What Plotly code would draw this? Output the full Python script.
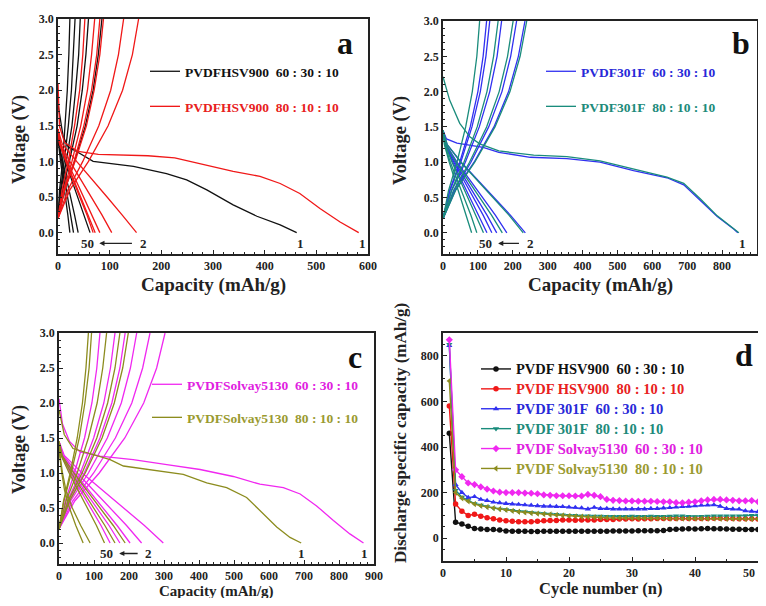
import plotly.graph_objects as go

SERIF = "Liberation Serif, Times New Roman, serif"
# the page body has an 8px margin: the figure sits at (8, 8) and must fit inside the 766x606 window
OFF = 8
W, H = 766 - 2 * OFF, 606 - 2 * OFF

# ---------------- shared voltage grids (V) ----------------
DIS_V = [1.45, 1.25, 1.0, 0.75, 0.5, 0.25, 0.0]
CHG_V = [0.2, 0.6, 1.0, 1.5, 2.0, 2.5, 3.0]

# ---------------- panel a : PVDF HSV900 ----------------
A1_FIRST_CAP = [0, 10, 20, 36, 68, 146, 210, 249, 288, 339, 385, 430, 462]
A1_FIRST_V = [1.8, 1.35, 1.2, 1.14, 1.0, 0.93, 0.83, 0.74, 0.6, 0.39, 0.23, 0.11, 0.0]
A2_FIRST_CAP = [0, 3, 13, 39, 78, 174, 226, 288, 339, 391, 430, 468, 507, 546, 582]
A2_FIRST_V = [2.1, 1.49, 1.26, 1.14, 1.1, 1.08, 1.05, 0.95, 0.86, 0.79, 0.69, 0.55, 0.34, 0.15, 0.0]
A1_DIS = [[0, 4, 14, 26, 38, 51, 62],
          [0, 2, 9, 17, 24, 32, 39],
          [0, 2, 7, 13, 19, 25, 30],
          [0, 1, 5, 10, 14, 19, 23]]
A2_DIS = [[0, 8, 36, 66, 95, 124, 152],
          [0, 5, 23, 44, 65, 85, 104],
          [0, 4, 18, 34, 50, 66, 81],
          [0, 3, 16, 30, 45, 59, 72],
          [0, 3, 15, 28, 42, 56, 68]]
A1_CHG = [[0, 13, 32, 53, 68, 78, 85],
          [0, 9, 22, 37, 47, 54, 59],
          [0, 6, 16, 27, 34, 40, 43],
          [0, 5, 12, 20, 26, 30, 33],
          [0, 3, 9, 14, 18, 21, 23]]
A2_CHG = [[0, 23, 59, 97, 125, 144, 156],
          [0, 19, 48, 79, 102, 117, 127],
          [0, 13, 33, 55, 70, 81, 88],
          [0, 12, 31, 50, 65, 75, 81],
          [0, 11, 27, 44, 57, 65, 71],
          [0, 8, 20, 32, 42, 48, 52]]

# ---------------- panel b : PVDF 301F ----------------
B1_FIRST_CAP = [0, 10, 40, 80, 115, 160, 250, 355, 450, 546, 642, 690, 738, 786, 834, 845]
B1_FIRST_V = [1.45, 1.33, 1.27, 1.24, 1.21, 1.14, 1.07, 1.05, 1.0, 0.88, 0.78, 0.68, 0.46, 0.23, 0.05, 0.0]
B2_FIRST_CAP = [0, 19, 48, 77, 105, 160, 260, 355, 450, 546, 642, 690, 738, 786, 834, 848]
B2_FIRST_V = [2.21, 1.88, 1.55, 1.36, 1.26, 1.16, 1.1, 1.08, 1.02, 0.9, 0.79, 0.7, 0.48, 0.24, 0.06, 0.0]
B1_DIS = [[0, 12, 52, 99, 146, 193, 236],
          [0, 9, 40, 77, 113, 150, 183],
          [0, 8, 34, 65, 95, 126, 154],
          [0, 7, 31, 59, 87, 115, 140],
          [0, 6, 28, 53, 78, 103, 126]]
B2_DIS = [[0, 12, 51, 97, 143, 189, 230],
          [0, 9, 37, 71, 105, 139, 170],
          [0, 6, 26, 49, 72, 95, 116],
          [0, 5, 21, 41, 60, 80, 97],
          [0, 4, 18, 34, 51, 67, 82]]
B1_CHG = [[0, 35, 89, 146, 188, 216, 235],
          [0, 32, 80, 131, 169, 194, 211],
          [0, 25, 64, 104, 134, 155, 168],
          [0, 20, 51, 83, 107, 123, 134],
          [0, 19, 48, 78, 100, 115, 125]]
B2_CHG = [[0, 36, 91, 149, 192, 221, 240],
          [0, 30, 76, 125, 161, 185, 201],
          [0, 24, 60, 98, 126, 145, 158],
          [0, 16, 40, 65, 84, 97, 105]]

# ---------------- panel c : PVDF Solvay5130 ----------------
C1_FIRST_CAP = [0, 10, 30, 60, 117, 212, 308, 403, 498, 574, 641, 689, 736, 784, 831, 870]
C1_FIRST_V = [2.06, 1.7, 1.45, 1.3, 1.24, 1.19, 1.12, 1.05, 0.95, 0.84, 0.79, 0.7, 0.53, 0.32, 0.13, 0.0]
C2_FIRST_CAP = [0, 15, 40, 98, 146, 184, 260, 355, 422, 479, 536, 574, 622, 660, 692]
C2_FIRST_V = [1.9, 1.55, 1.35, 1.26, 1.19, 1.1, 1.05, 0.98, 0.86, 0.79, 0.65, 0.46, 0.23, 0.08, 0.0]
C1_DIS = [[0, 15, 66, 125, 185, 244, 298],
          [0, 12, 52, 99, 146, 193, 236],
          [0, 10, 45, 85, 126, 166, 203],
          [0, 9, 38, 73, 108, 143, 174],
          [0, 7, 32, 61, 91, 120, 146]]
C2_DIS = [[0, 9, 42, 79, 117, 155, 189],
          [0, 8, 35, 67, 99, 131, 160],
          [0, 6, 29, 55, 81, 107, 130],
          [0, 3, 10, 20, 38, 62, 89],
          [0, 2, 8, 16, 30, 48, 69]]
C1_CHG = [[0, 45, 115, 188, 242, 279, 303],
          [0, 39, 99, 161, 208, 239, 260],
          [0, 33, 84, 138, 178, 204, 222],
          [0, 28, 72, 117, 151, 174, 189],
          [0, 24, 61, 99, 128, 147, 160],
          [0, 18, 44, 73, 94, 108, 117]]
C2_CHG = [[0, 30, 75, 123, 158, 182, 198],
          [0, 26, 66, 108, 139, 160, 174],
          [0, 20, 52, 84, 109, 125, 136],
          [0, 14, 35, 58, 74, 86, 93],
          [0, 13, 32, 52, 67, 77, 84]]

# ---------------- panel d : cycling ----------------
CYCLES = list(range(1, 51))
D_HSV_60 = [460, 70, 62, 52, 42, 40, 38, 38, 36, 32, 31, 30, 30, 29, 29, 30, 30, 30, 31, 30,
            30, 30, 30, 31, 31, 31, 32, 32, 32, 32, 33, 33, 33, 33, 34, 38, 39, 40, 41, 40,
            41, 42, 41, 41, 40, 39, 39, 38, 38, 38]
D_HSV_80 = [580, 150, 118, 100, 105, 96, 90, 85, 80, 76, 74, 72, 72, 72, 74, 76, 78, 78, 80, 80,
            79, 80, 80, 80, 82, 82, 82, 84, 84, 85, 84, 85, 85, 86, 86, 86, 86, 87, 86, 86,
            86, 86, 87, 88, 86, 86, 85, 85, 85, 84]
D_301_60 = [845, 235, 200, 178, 182, 170, 165, 158, 155, 152, 150, 148, 146, 144, 142, 140, 140, 139, 138, 136,
            135, 133, 128, 135, 130, 130, 128, 128, 128, 128, 128, 128, 130, 130, 132, 134, 136, 138, 140, 142,
            145, 145, 146, 140, 130, 128, 127, 120, 118, 116]
D_301_80 = [850, 210, 180, 165, 152, 145, 138, 132, 128, 125, 122, 118, 115, 112, 110, 108, 106, 104, 102, 100,
            100, 98, 98, 97, 97, 96, 96, 96, 96, 97, 96, 96, 97, 96, 96, 97, 98, 98, 96, 95,
            96, 97, 98, 98, 98, 98, 98, 99, 100, 100]
D_SOL_60 = [870, 300, 270, 242, 235, 225, 215, 207, 202, 200, 200, 200, 198, 197, 195, 190, 188, 186, 186, 186,
            185, 185, 192, 188, 182, 170, 166, 165, 163, 163, 162, 162, 162, 161, 160, 160, 156, 155, 158, 160,
            164, 168, 170, 170, 168, 166, 164, 164, 165, 160]
D_SOL_80 = [690, 200, 175, 162, 150, 142, 137, 132, 128, 124, 120, 116, 113, 110, 108, 106, 104, 102, 100, 98,
            96, 94, 93, 92, 91, 90, 90, 89, 89, 88, 88, 88, 87, 87, 87, 86, 86, 86, 86, 86,
            86, 86, 86, 85, 85, 85, 85, 84, 84, 84]
D_XTICKS = [0, 10, 20, 30, 40, 50]

D_NAMES = ["PVDF HSV900\u00a0\u00a060 : 30 : 10", "PVDF HSV900\u00a0\u00a080 : 10 : 10",
           "PVDF 301F\u00a0\u00a060 : 30 : 10", "PVDF 301F\u00a0\u00a080 : 10 : 10",
           "PVDF Solvay5130\u00a0\u00a060 : 30 : 10", "PVDF Solvay5130\u00a0\u00a080 : 10 : 10"]

BLACK, RED, BLUE, TEAL, MAGENTA, OLIVE = "#111111", "#f01818", "#3030f0", "#1a8c7c", "#f028f0", "#8c8c1e"
TXT = {BLACK: "#111111", RED: "#e82020", BLUE: "#2828d8", TEAL: "#208a7a", MAGENTA: "#e020e0", OLIVE: "#9a9a30"}

fig = go.Figure()


def add_panel_series(xa, ya, first_cap, first_v, dis, chg, color, name, legend):
    xs, ys = list(first_cap) + [None], list(first_v) + [None]
    for c in dis:
        xs += list(c) + [None]
        ys += DIS_V + [None]
    for c in chg:
        xs += list(c) + [None]
        ys += CHG_V + [None]
    fig.add_trace(go.Scatter(
        x=xs, y=ys, mode="lines", line=dict(color=color, width=1.3),
        name=f"<span style='color:{TXT[color]}'>{name}</span>",
        legend=legend, legendgroup=name, xaxis=xa, yaxis=ya, connectgaps=False,
        hoverinfo="skip"))


add_panel_series("x", "y", A1_FIRST_CAP, A1_FIRST_V, A1_DIS, A1_CHG, BLACK, "PVDFHSV900\u00a0\u00a060 : 30 : 10", "legend")
add_panel_series("x", "y", A2_FIRST_CAP, A2_FIRST_V, A2_DIS, A2_CHG, RED, "PVDFHSV900\u00a0\u00a080 : 10 : 10", "legend")
add_panel_series("x2", "y2", B1_FIRST_CAP, B1_FIRST_V, B1_DIS, B1_CHG, BLUE, "PVDF301F\u00a0\u00a060 : 30 : 10", "legend2")
add_panel_series("x2", "y2", B2_FIRST_CAP, B2_FIRST_V, B2_DIS, B2_CHG, TEAL, "PVDF301F\u00a0\u00a080 : 10 : 10", "legend2")
add_panel_series("x3", "y3", C1_FIRST_CAP, C1_FIRST_V, C1_DIS, C1_CHG, MAGENTA, "PVDFSolvay5130\u00a0\u00a060 : 30 : 10", "legend3")
add_panel_series("x3", "y3", C2_FIRST_CAP, C2_FIRST_V, C2_DIS, C2_CHG, OLIVE, "PVDFSolvay5130\u00a0\u00a080 : 10 : 10", "legend3")

D_SERIES = [D_HSV_60, D_HSV_80, D_301_60, D_301_80, D_SOL_60, D_SOL_80]
D_COLORS = [BLACK, RED, BLUE, TEAL, MAGENTA, OLIVE]
D_SYMBOLS = ["circle", "circle", "triangle-up", "triangle-down", "diamond", "triangle-left"]
for vals, col, sym, nm in zip(D_SERIES, D_COLORS, D_SYMBOLS, D_NAMES):
    fig.add_trace(go.Scatter(
        x=CYCLES, y=vals, mode="lines+markers",
        line=dict(color=col, width=1.4), marker=dict(symbol=sym, size=5.5, color=col),
        name=f"<span style='color:{TXT[col]};font-size:14.5px'>{nm}</span>", legend="legend4",
        xaxis="x4", yaxis="y4", hoverinfo="skip"))


def fx(px):  # page pixel x -> paper fraction
    return (px - OFF) / W


def fy(py):  # page pixel y -> paper fraction
    return 1 - (py - OFF) / H


def dom_x(a, b):
    return [fx(a), fx(b)]


def dom_y(top, bottom):
    return [fy(bottom), fy(top)]


tickfont = dict(family=SERIF, size=12, color="#222", weight="bold")
base = dict(showline=True, mirror=True, linecolor="#222", linewidth=1.6, ticks="inside",
            ticklen=4, tickwidth=1.2, tickcolor="#222", showgrid=False, zeroline=False,
            tickfont=tickfont, minor=dict(ticks="inside", ticklen=2, tickwidth=1, tickcolor="#222"))

fig.update_layout(
    width=W, height=H, margin=dict(l=0, r=0, t=0, b=0, autoexpand=False),
    paper_bgcolor="white", plot_bgcolor="white",
    xaxis=dict(base, domain=dom_x(58, 368), range=[0, 600], dtick=100, anchor="y"),
    yaxis=dict(base, domain=dom_y(19, 254), range=[-0.3, 3.0], dtick=0.5, tick0=0, tickformat=".1f", anchor="x"),
    xaxis2=dict(base, domain=dom_x(443, 757), range=[0, 900], dtick=100, anchor="y2"),
    yaxis2=dict(base, domain=dom_y(21, 254), range=[-0.3, 3.0], dtick=0.5, tick0=0, tickformat=".1f", anchor="x2"),
    xaxis3=dict(base, domain=dom_x(59, 374), range=[0, 900], dtick=100, anchor="y3"),
    yaxis3=dict(base, domain=dom_y(333, 564), range=[-0.3, 3.0], dtick=0.5, tick0=0, tickformat=".1f", anchor="x3"),
    # the last x label of panel d is drawn as an annotation so it is not clipped at the right edge
    xaxis4=dict(base, domain=dom_x(443, 758), range=[0, 50], tickmode="array",
                tickvals=D_XTICKS, ticktext=[str(v) for v in D_XTICKS[:-1]] + [""], anchor="y4",
                minor=dict(ticks="inside", ticklen=2, tickwidth=1, tickcolor="#222", dtick=5)),
    yaxis4=dict(base, domain=dom_y(333, 561), range=[-100, 900], dtick=200, tick0=0, anchor="x4"),
    showlegend=True,
)

leg_common = dict(xanchor="left", yanchor="top", bgcolor="rgba(0,0,0,0)", traceorder="grouped",
                  itemwidth=30, font=dict(family=SERIF, size=13.5, weight="bold"))
fig.update_layout(
    legend=dict(leg_common, x=fx(145), y=fy(56), tracegroupgap=14.5),
    legend2=dict(leg_common, x=fx(541), y=fy(56), tracegroupgap=14.5),
    legend3=dict(leg_common, x=fx(147), y=fy(369), tracegroupgap=12.5),
    legend4=dict(xanchor="left", yanchor="top", bgcolor="rgba(0,0,0,0)", itemwidth=30,
                 font=dict(family=SERIF, size=13, weight="bold"), x=fx(476), y=fy(354),
                 tracegroupgap=0),
)

ann = []
t_volt = dict(family=SERIF, size=18.5, color="#222", weight="bold")
t_cap = dict(family=SERIF, size=19, color="#222", weight="bold")
t_cap_c = dict(family=SERIF, size=15, color="#222", weight="bold")
t_cyc = dict(family=SERIF, size=16.5, color="#222", weight="bold")
t_dis = dict(family=SERIF, size=17, color="#222", weight="bold")
ann.append(dict(text="Voltage (V)", x=fx(19), y=fy(140), textangle=-90, font=t_volt))
ann.append(dict(text="Capacity (mAh/g)", x=fx(213), y=fy(285), font=t_cap))
ann.append(dict(text="Voltage (V)", x=fx(400), y=fy(140), textangle=-90, font=t_volt))
ann.append(dict(text="Capacity (mAh/g)", x=fx(600), y=fy(285), font=t_cap))
ann.append(dict(text="Voltage (V)", x=fx(19), y=fy(450), textangle=-90, font=t_volt))
ann.append(dict(text="Capacity (mAh/g)", x=fx(216), y=fy(591), font=t_cap_c))
ann.append(dict(text="Discharge specific capacity (mAh/g)", x=fx(400), y=fy(433), textangle=-90, font=t_dis))
ann.append(dict(text="Cycle number (n)", x=fx(600), y=fy(588), font=t_cyc))
ann.append(dict(text="50", x=fx(757), y=fy(573), font=tickfont, xanchor="right"))
for a in ann:
    a.update(xref="paper", yref="paper", showarrow=False, yanchor="middle")
    a.setdefault("xanchor", "center")

letter_font = dict(family=SERIF, size=32, color="#111", weight="bold")
for txt, x, y in [("a", 345, 43), ("b", 741, 43), ("c", 355, 357), ("d", 744, 355)]:
    ann.append(dict(text=txt, x=fx(x), y=fy(y), xref="paper", yref="paper", showarrow=False,
                    font=letter_font, xanchor="center", yanchor="middle"))

lab_font = dict(family=SERIF, size=13, color="#222", weight="bold")
for xr, yr, items in [
    ("x", "y", [("50", 58), ("2", 165), ("1", 470), ("1", 590)]),
    ("x2", "y2", [("50", 121), ("2", 250), ("1", 858)]),
    ("x3", "y3", [("50", 136), ("2", 256), ("1", 693), ("1", 874)]),
]:
    for t, xv in items:
        ann.append(dict(text=t, x=xv, y=-0.15, xref=xr, yref=yr, showarrow=False, font=lab_font,
                        xanchor="center", yanchor="middle"))
for xr, yr, x_head, x_tail in [("x", "y", 80, 146), ("x2", "y2", 158, 222), ("x3", "y3", 172, 229)]:
    ann.append(dict(x=x_head, y=-0.15, ax=x_tail, ay=-0.15, xref=xr, yref=yr, axref=xr, ayref=yr,
                    showarrow=True, arrowhead=2, arrowsize=0.8, arrowwidth=1.3, arrowcolor="#222", text=""))

fig.update_layout(annotations=ann)
fig.write_html("out.html")
